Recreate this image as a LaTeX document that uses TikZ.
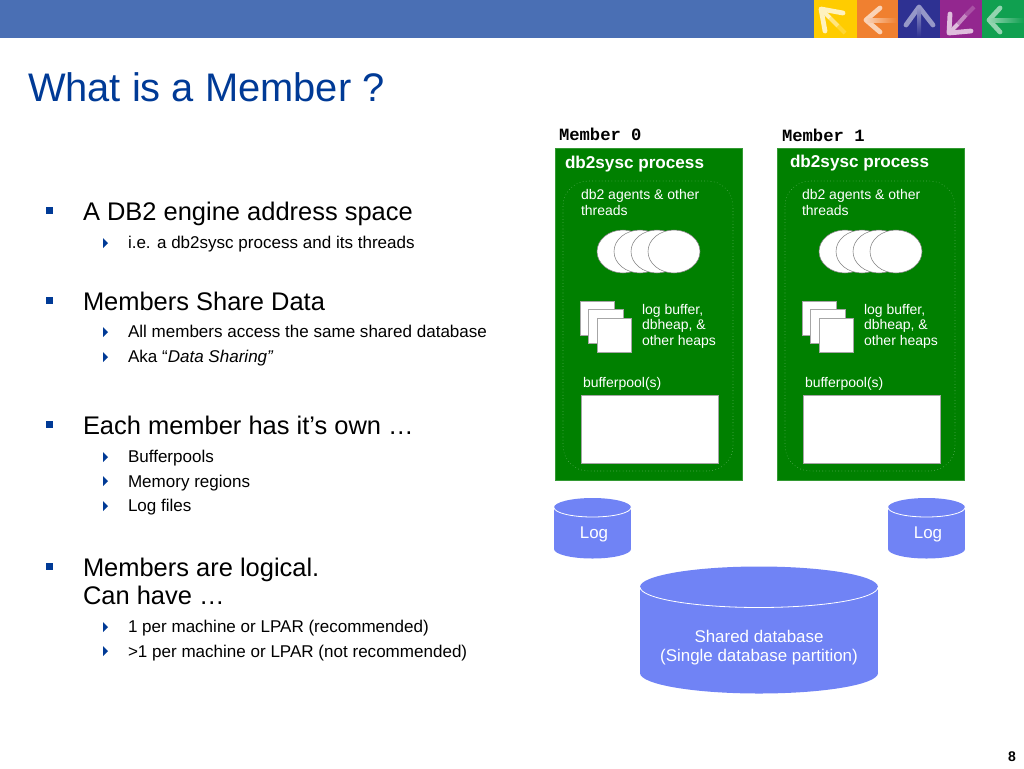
\documentclass[tikz,border=0pt]{standalone}
\usepackage{fontspec}
\setmainfont{Liberation Sans}
\setmonofont{Liberation Mono}
\definecolor{bandblue}{HTML}{4A6FB4}
\definecolor{titleblue}{HTML}{003A96}
\definecolor{procgreen}{HTML}{008000}
\definecolor{discblue}{HTML}{7083F5}
\definecolor{tabyellow}{HTML}{FFCC00}
\definecolor{taborange}{HTML}{F08030}
\definecolor{tabnavy}{HTML}{2E3192}
\definecolor{tabpurple}{HTML}{93278F}
\definecolor{tabgreen}{HTML}{10A050}
\tikzset{
	x=0.75pt,y=-0.75pt,
	txt/.style={anchor=base west,inner sep=0pt,outer sep=0pt,align=left},
	titletxt/.style={txt,text=titleblue,font=\fontsize{29.9}{34}\selectfont},
	maintxt/.style={txt,font=\fontsize{19.1}{20.3}\selectfont},
	subtxt/.style={txt,font=\fontsize{12.78}{15}\selectfont},
	headtxt/.style={txt,font=\ttfamily\bfseries\fontsize{12.9}{15}\selectfont},
	proctxt/.style={txt,text=white,font=\bfseries\fontsize{12.85}{15}\selectfont},
	smalltxt/.style={txt,text=white,font=\fontsize{10.5}{11.3}\selectfont},
	disctxt/.style={text=white,inner sep=0pt,align=center,font=\fontsize{12.7}{14.2}\selectfont},
	procbox/.style={draw=procgreen!80!white,line width=0.5pt,fill=procgreen},
	threadbox/.style={draw=white!45!procgreen,line width=0.4pt,dotted,rounded corners=19pt},
	whitebox/.style={draw=black!35,line width=0.5pt,fill=white},
	threadel/.style={draw=black!50,line width=0.4pt,fill=white},
	bigbul/.style={fill=titleblue},
	smallbul/.style={fill=titleblue},
	arrowline/.style={line width=3.6pt,line cap=round,line join=round},
	shaftline/.style={line width=3pt}
}
\newcommand{\discdraw}[5]{
	\fill[discblue] (#1,#3) rectangle (#2,#5);
	\fill[discblue] ({(#1+#2)/2},#3) ellipse [x radius={(#2-#1)/2},y radius=#4];
	\fill[discblue] ({(#1+#2)/2},#5) ellipse [x radius={(#2-#1)/2},y radius=#4];
	\draw[white,line width=0.6pt] (#1,#3) arc[start angle=180,end angle=0,x radius={(#2-#1)/2},y radius=#4];
}
\begin{document}
\begin{tikzpicture}
	\useasboundingbox (0,0) rectangle (1024,768);

	\fill[bandblue] (0,0) rectangle (814,38);
	\fill[tabyellow] (814,0) rectangle (857,38);
	\fill[taborange] (857,0) rectangle (898,38);
	\fill[tabnavy] (898,0) rectangle (940,38);
	\fill[tabpurple] (940,0) rectangle (982,38);
	\fill[tabgreen] (982,0) rectangle (1024,38);
	\draw[arrowline,tabyellow!25!white] (843,13) -- (821,9) -- (825,31);
	\draw[shaftline,tabyellow!25!white] (821,9) -- (830,18);
	\draw[shaftline,tabyellow!50!white] (830,18) -- (838,26);
	\draw[shaftline,tabyellow!80!white] (838,26) -- (845,33);
	\draw[arrowline,taborange!35!white] (880,8) -- (866,20) -- (880,32);
	\fill[left color=taborange!35!white,right color=taborange] (866,18) -- (897,18) -- (897,22) -- (866,22) -- cycle;
	\draw[arrowline,tabnavy!50!white] (906,25) -- (919,7) -- (933,25);
	\fill[top color=tabnavy!50!white,bottom color=tabnavy] (917,7) -- (921,7) -- (921,37) -- (917,37) -- cycle;
	\draw[arrowline,tabpurple!30!white] (950,14) -- (949,33) -- (971,31);
	\draw[shaftline,tabpurple!30!white] (949,33) -- (958,24);
	\draw[shaftline,tabpurple!55!white] (958,24) -- (966,15);
	\draw[shaftline,tabpurple!80!white] (966,15) -- (974,7);
	\draw[arrowline,tabgreen!45!white] (1000,8) -- (989,20) -- (1000,32);
	\fill[left color=tabgreen!45!white,right color=tabgreen] (989,18) -- (1024,18) -- (1024,22) -- (989,22) -- cycle;

	\node[titletxt] (title) at (28,101) {What is a Member ?};

	\fill[bigbul] (46,207) rectangle (53,214);
	\fill[smallbul] (103,238) -- (108,243) -- (103,248) -- cycle;
	\node[maintxt] (m1) at (83,220) {A DB2 engine address space};
	\node[subtxt] (s11) at (128,248) {i.e. a db2sysc process and its threads};

	\fill[bigbul] (46,297) rectangle (53,304);
	\fill[smallbul] (103,327) -- (108,332) -- (103,337) -- cycle;
	\fill[smallbul] (103,352) -- (108,357) -- (103,362) -- cycle;
	\node[maintxt] (m2) at (83,310) {Members Share Data};
	\node[subtxt] (s21) at (128,337) {All members access the same shared database};
	\node[subtxt] (s22) at (128,362) {Aka “\textit{Data Sharing”}};

	\fill[bigbul] (46,421) rectangle (53,428);
	\fill[smallbul] (103,452) -- (108,457) -- (103,462) -- cycle;
	\fill[smallbul] (103,476) -- (108,481) -- (103,486) -- cycle;
	\fill[smallbul] (103,501) -- (108,506) -- (103,511) -- cycle;
	\node[maintxt] (m3) at (83,434) {Each member has it’s own …};
	\node[subtxt] (s31) at (128,462) {Bufferpools};
	\node[subtxt] (s32) at (128,487) {Memory regions};
	\node[subtxt] (s33) at (128,511) {Log files};

	\fill[bigbul] (46,563) rectangle (53,570);
	\fill[smallbul] (103,622) -- (108,627) -- (103,632) -- cycle;
	\fill[smallbul] (103,646) -- (108,651) -- (103,656) -- cycle;
	\node[maintxt] (m4) at (83,604) {Members are logical.\\Can have …};
	\node[subtxt] (s41) at (128,632) {1 per machine or LPAR (recommended)};
	\node[subtxt] (s42) at (128,657) {>1 per machine or LPAR (not recommended)};

	\node[headtxt] (mem0) at (559,140) {Member 0};
	\node[headtxt] (mem1) at (782,141) {Member 1};

	\draw[procbox] (555,148) rectangle (742,480);
	\draw[threadbox] (563,181) rectangle (733,471);
	\node[proctxt] (proc0) at (565,168) {db2sysc process};
	\node[smalltxt] (agents0) at (581,215) {db2 agents \& other\\threads};
	\draw[threadel] (623,251.500) ellipse [x radius=26,y radius=21.500];
	\draw[threadel] (640,251.500) ellipse [x radius=26,y radius=21.500];
	\draw[threadel] (657,251.500) ellipse [x radius=26,y radius=21.500];
	\draw[threadel] (674,251.500) ellipse [x radius=26,y radius=21.500];
	\draw[whitebox] (580,301) rectangle (614,335);
	\draw[whitebox] (588,309) rectangle (623,343);
	\draw[whitebox] (597,318) rectangle (631,352);
	\node[smalltxt] (heaps0) at (642,345) {log buffer,\\dbheap, \&\\other heaps};
	\node[smalltxt] (pool0) at (583,387) {bufferpool(s)};
	\draw[whitebox] (581,395) rectangle (718,463);

	\draw[procbox] (777,148) rectangle (964,480);
	\draw[threadbox] (785,181) rectangle (955,471);
	\node[proctxt] (proc1) at (790,167) {db2sysc process};
	\node[smalltxt] (agents1) at (802,215) {db2 agents \& other\\threads};
	\draw[threadel] (845,251.500) ellipse [x radius=26,y radius=21.500];
	\draw[threadel] (862,251.500) ellipse [x radius=26,y radius=21.500];
	\draw[threadel] (879,251.500) ellipse [x radius=26,y radius=21.500];
	\draw[threadel] (896,251.500) ellipse [x radius=26,y radius=21.500];
	\draw[whitebox] (802,301) rectangle (836,335);
	\draw[whitebox] (810,309) rectangle (845,343);
	\draw[whitebox] (819,318) rectangle (853,352);
	\node[smalltxt] (heaps1) at (864,345) {log buffer,\\dbheap, \&\\other heaps};
	\node[smalltxt] (pool1) at (805,387) {bufferpool(s)};
	\draw[whitebox] (803,395) rectangle (940,463);

	\discdraw{554}{631}{507.500}{9.500}{549}
	\discdraw{888}{965}{507.500}{9.500}{549}
	\discdraw{640}{878}{587}{20.500}{673}
	\node[disctxt] (log0) at (594,534) {Log};
	\node[disctxt] (log1) at (928,534) {Log};
	\node[disctxt] (shared) at (759,648) {Shared database\\(Single database partition)};

	\node[txt,font=\bfseries\fontsize{10.5}{12}\selectfont] (pagenum) at (1008,761) {8};
\end{tikzpicture}
\end{document}
